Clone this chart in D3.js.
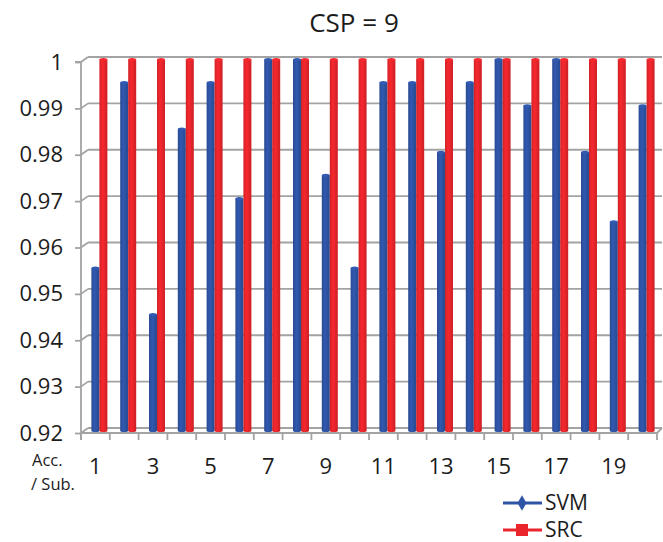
<!DOCTYPE html>
<html>
<head>
<meta charset="utf-8">
<script src="https://cdn.jsdelivr.net/npm/d3@7"></script>
<style>
  html, body { margin: 0; padding: 0; background: #fff; }
  svg { display: block; font-family: "Open Sans", "Noto Sans", sans-serif; }
</style>
</head>
<body>
<svg id="chart" width="663" height="542"></svg>
<script>
// Per-subject accuracy, CSP = 9
const subjects = d3.range(1, 21);
const svmAcc = [0.955, 0.995, 0.945, 0.985, 0.995, 0.97, 1, 1, 0.975, 0.955,
                0.995, 0.995, 0.98, 0.995, 1, 0.99, 1, 0.98, 0.965, 0.99];
const srcAcc = [1, 1, 1, 1, 1, 1, 1, 1, 1, 1, 1, 1, 1, 1, 1, 1, 1, 1, 1, 1];
const yTicks = [0.92, 0.93, 0.94, 0.95, 0.96, 0.97, 0.98, 0.99, 1];
const xLabels = subjects.filter(d => d % 2 === 1);
const seriesNames = ["SVM", "SRC"];
const seriesColors = ["#2E54A6", "#EA262C"];

const svg = d3.select("#chart");

// 3D depth offset of the back wall relative to the front axis plane
const depthX = 7, depthY = -5;

const y = d3.scaleLinear().domain([0.92, 1]).range([433, 62]);
const x = d3.scaleBand().domain(subjects).range([81, 657]).paddingInner(0).paddingOuter(0);
const inner = d3.scaleBand().domain(seriesNames).range([0, 16]);

const gridColor = "#A3A3A3";

// back wall gridlines with their depth diagonals
const grid = svg.append("g");
yTicks.forEach(t => {
  const yy = y(t);
  grid.append("line")
    .attr("x1", 81).attr("y1", yy).attr("x2", 81 + depthX).attr("y2", yy + depthY)
    .attr("stroke", gridColor).attr("stroke-width", 1.8);
  grid.append("line")
    .attr("x1", 81 + depthX).attr("y1", yy + depthY).attr("x2", 657 + depthX - 2).attr("y2", yy + depthY)
    .attr("stroke", gridColor).attr("stroke-width", 1.8);
});

// front floor edge and right depth edge
grid.append("line").attr("x1", 81).attr("y1", y(0.92)).attr("x2", 657).attr("y2", y(0.92))
  .attr("stroke", gridColor).attr("stroke-width", 1.8);
grid.append("line").attr("x1", 657).attr("y1", y(0.92)).attr("x2", 657 + depthX - 2).attr("y2", y(0.92) + depthY)
  .attr("stroke", gridColor).attr("stroke-width", 1.8);

// y axis
const yAxis = d3.axisLeft(y).tickValues(yTicks).tickSize(6).tickPadding(12)
  .tickFormat(d => d3.format("")(+d.toFixed(2)));
const gy = svg.append("g").attr("transform", "translate(81,0)").call(yAxis);
gy.select(".domain").attr("stroke", gridColor).attr("stroke-width", 1.8)
  .attr("d", `M-6,${y(1)}H0V${y(0.92) + 7}`);
gy.selectAll(".tick line").attr("stroke", gridColor).attr("stroke-width", 1.8);
gy.selectAll(".tick text").attr("fill", "#1c1c1c").style("font-size", "22px")
  .style("font-family", "'Open Sans', sans-serif");

// x axis: ticks at category boundaries, labels on odd subjects
const gx = svg.append("g");
subjects.concat([21]).forEach((s, i) => {
  const xx = 81 + i * x.bandwidth();
  gx.append("line").attr("x1", xx).attr("x2", xx).attr("y1", y(0.92)).attr("y2", y(0.92) + 7)
    .attr("stroke", gridColor).attr("stroke-width", 1.8);
});
gx.selectAll("text.xl").data(xLabels).join("text")
  .attr("class", "xl")
  .attr("x", d => x(d) + x.bandwidth() / 2)
  .attr("y", 474)
  .attr("text-anchor", "middle")
  .attr("fill", "#1c1c1c")
  .style("font-size", "22px")
  .text(d => d);

svg.append("text").attr("x", 32).attr("y", 466).attr("fill", "#1c1c1c").style("font-size", "16.5px").text("Acc.");
svg.append("text").attr("x", 31).attr("y", 490).attr("fill", "#1c1c1c").style("font-size", "16.5px").text("/ Sub.");

// cylinder shading
const defs = svg.append("defs");
seriesColors.forEach((c, i) => {
  const base = d3.color(c);
  const g = defs.append("linearGradient").attr("id", "cyl" + i)
    .attr("x1", "0%").attr("x2", "100%").attr("y1", "0%").attr("y2", "0%");
  g.append("stop").attr("offset", "0%").attr("stop-color", base.darker(0.35));
  g.append("stop").attr("offset", "40%").attr("stop-color", base.brighter(0.15));
  g.append("stop").attr("offset", "100%").attr("stop-color", base.darker(0.4));
});

// bars, drawn at mid depth
const barDx = depthX / 2, barDy = depthY / 2;
const rows = subjects.map((s, i) => ({ s, vals: [svmAcc[i], srcAcc[i]] }));
const bars = svg.append("g");
rows.forEach(r => {
  r.vals.forEach((v, k) => {
    const x0 = x(r.s) + x.bandwidth() / 2 - inner.bandwidth() + barDx + inner(seriesNames[k]) + 0.5;
    const w = inner.bandwidth();
    const top = y(v) + barDy;
    const bottom = y(0.92) + barDy;
    bars.append("rect")
      .attr("x", x0).attr("y", top).attr("width", w).attr("height", bottom - top)
      .attr("fill", `url(#cyl${k})`);
    bars.append("ellipse")
      .attr("cx", x0 + w / 2).attr("cy", top).attr("rx", w / 2).attr("ry", 1.6)
      .attr("fill", d3.color(seriesColors[k]).brighter(0.2));
    bars.append("ellipse")
      .attr("cx", x0 + w / 2).attr("cy", bottom).attr("rx", w / 2).attr("ry", 1.6)
      .attr("fill", `url(#cyl${k})`);
  });
});

// title
svg.append("text").attr("x", 354).attr("y", 32).attr("text-anchor", "middle")
  .attr("fill", "#1c1c1c").style("font-size", "26px").text("CSP = 9");

// legend
const legend = svg.append("g");
seriesNames.forEach((name, i) => {
  const ly = 503 + i * 27;
  legend.append("line").attr("x1", 503).attr("x2", 542).attr("y1", ly).attr("y2", ly)
    .attr("stroke", seriesColors[i]).attr("stroke-width", 3);
  if (i === 0) {
    legend.append("path").attr("d", d3.symbol(d3.symbolDiamond, 70)())
      .attr("transform", `translate(522,${ly})`)
      .attr("fill", seriesColors[i]);
  } else {
    legend.append("rect").attr("x", 516).attr("y", ly - 6).attr("width", 12).attr("height", 12)
      .attr("fill", seriesColors[i]);
  }
  legend.append("text").attr("x", 545).attr("y", ly + 7).attr("fill", "#1c1c1c")
    .style("font-size", "21px").text(name);
});
</script>
</body>
</html>
